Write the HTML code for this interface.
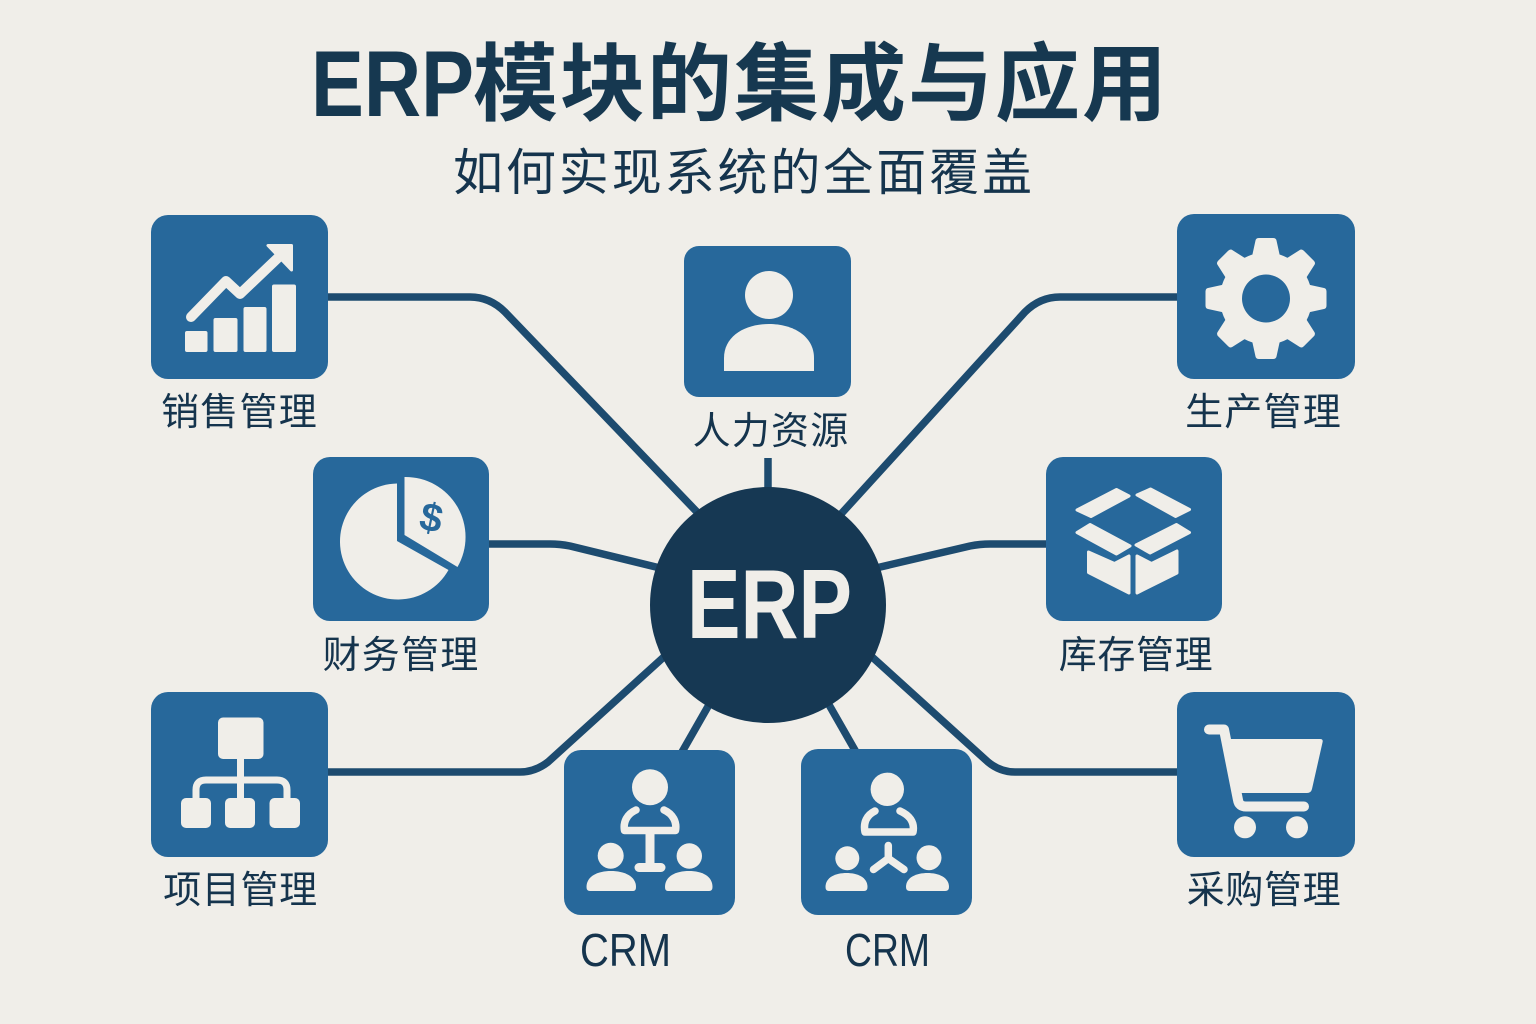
<!DOCTYPE html>
<html><head><meta charset="utf-8"><style>
html,body{margin:0;padding:0;background:#f0eee9}
svg{display:block}
text{font-family:"Liberation Sans","Noto Sans CJK SC",sans-serif}
.l{font-size:38px;fill:#15344d;text-anchor:middle;letter-spacing:1.2px}
.n{letter-spacing:.6px}
.b{fill:#27689b}
.w{fill:#f0eee9}
.s{stroke:#f0eee9;fill:none}
.c{stroke:#1d4b6f;stroke-width:7.5;fill:none;stroke-linecap:butt;stroke-linejoin:round}
</style></head><body>
<svg width="1536" height="1024" viewBox="0 0 1536 1024" xmlns="http://www.w3.org/2000/svg">
<rect width="1536" height="1024" fill="#f0eee9"/>
<text x="311" y="116" font-size="94" font-weight="700" fill="#163850" textLength="163" lengthAdjust="spacingAndGlyphs">ERP</text>
<text x="473" y="114" font-size="85" font-weight="700" fill="#163850" letter-spacing="2">模块的集成与应用</text>
<text x="453" y="190" font-size="50" fill="#15344d" letter-spacing="2.900">如何实现系统的全面覆盖</text>

<path class="c" d="M328 297H470Q490 297 505 312L697 512"/>
<path class="c" d="M1177 297H1060Q1040 297 1025 312L841 514"/>
<path class="c" d="M768 458V492"/>
<path class="c" d="M489 544H550Q560 544 570 546L660 568"/>
<path class="c" d="M1046 544H990Q980 544 970 546L876 568"/>
<path class="c" d="M328 772H520Q535 772 548 762L666 655"/>
<path class="c" d="M1177 772H1015Q1000 772 988 762L871 656"/>
<path class="c" d="M682 752L710 703"/>
<path class="c" d="M856 752L828 703"/>
<circle cx="768" cy="605" r="118" fill="#163853"/>
<text x="687" y="638" font-size="98" font-weight="700" fill="#f0eee9" textLength="165" lengthAdjust="spacingAndGlyphs">ERP</text>

<rect class="b" x="151" y="215" width="177" height="164" rx="17"/>
<rect class="b" x="684" y="246" width="167" height="151" rx="15"/>
<rect class="b" x="1177" y="214" width="178" height="165" rx="17"/>
<rect class="b" x="313" y="457" width="176" height="164" rx="17"/>
<rect class="b" x="1046" y="457" width="176" height="164" rx="17"/>
<rect class="b" x="151" y="692" width="177" height="165" rx="17"/>
<rect class="b" x="564" y="750" width="171" height="165" rx="17"/>
<rect class="b" x="801" y="749" width="171" height="166" rx="17"/>
<rect class="b" x="1177" y="692" width="178" height="165" rx="17"/>

<!-- sales -->
<rect class="w" x="185" y="331" width="22.500" height="21" rx="2"/>
<rect class="w" x="213.500" y="318" width="24" height="34" rx="2"/>
<rect class="w" x="243.500" y="307" width="23" height="45" rx="2"/>
<rect class="w" x="272" y="284.500" width="24" height="67.500" rx="2"/>
<path class="s" stroke-width="10" stroke-linecap="round" stroke-linejoin="round" d="M191 317L226 281L240 294L282 254"/>
<path class="w" stroke="#f0eee9" stroke-width="3" stroke-linejoin="round" d="M268 245.500H291.500V270Z"/>

<!-- person -->
<circle class="w" cx="769" cy="295" r="24"/>
<path class="w" d="M724 371V358C724 336 745 324 769 324S814 336 814 358V371Z"/>

<!-- gear -->
<g transform="translate(1266 298.500)">
<circle r="46" class="w"/>
<g class="w">
<path d="M-14 -42L-10.500 -58Q-10 -60.500 -7 -60.500H7Q10 -60.500 10.500 -58L14 -42Z"/>
<path d="M-14 -42L-10.500 -58Q-10 -60.500 -7 -60.500H7Q10 -60.500 10.500 -58L14 -42Z" transform="rotate(45)"/>
<path d="M-14 -42L-10.500 -58Q-10 -60.500 -7 -60.500H7Q10 -60.500 10.500 -58L14 -42Z" transform="rotate(90)"/>
<path d="M-14 -42L-10.500 -58Q-10 -60.500 -7 -60.500H7Q10 -60.500 10.500 -58L14 -42Z" transform="rotate(135)"/>
<path d="M-14 -42L-10.500 -58Q-10 -60.500 -7 -60.500H7Q10 -60.500 10.500 -58L14 -42Z" transform="rotate(180)"/>
<path d="M-14 -42L-10.500 -58Q-10 -60.500 -7 -60.500H7Q10 -60.500 10.500 -58L14 -42Z" transform="rotate(225)"/>
<path d="M-14 -42L-10.500 -58Q-10 -60.500 -7 -60.500H7Q10 -60.500 10.500 -58L14 -42Z" transform="rotate(270)"/>
<path d="M-14 -42L-10.500 -58Q-10 -60.500 -7 -60.500H7Q10 -60.500 10.500 -58L14 -42Z" transform="rotate(315)"/>
</g>
<circle r="24" class="b"/>
</g>

<!-- pie -->
<path class="w" d="M397 483.500A58 58 0 1 0 448.500 570L397 541Z"/>
<path class="w" d="M404.500 477A60 60 0 0 1 457.500 567L404.500 535Z"/>
<text transform="translate(428.500 531) rotate(12)" font-size="40" font-weight="700" fill="#27689b" text-anchor="middle">$</text>

<!-- box -->
<g class="w" stroke="#f0eee9" stroke-width="3" stroke-linejoin="round">
<path d="M1077 510L1116.500 489.500L1129 496L1091 516.500Z"/>
<path d="M1137 495L1150.500 489L1189.500 509.500L1175.500 516.500Z"/>
<path d="M1077 532.500L1090 524.500L1130 546L1116.500 554Z"/>
<path d="M1136 545L1176.500 524.500L1189.500 532.500L1150 553Z"/>
<path d="M1088.500 552L1114.500 563.500L1129 556V593L1088.500 572.500Z"/>
<path d="M1137 556L1151.500 563.500L1177 551V573L1137 593Z"/>
</g>

<!-- org -->
<rect class="w" x="218" y="717.500" width="45.500" height="41.500" rx="5"/>
<path class="s" stroke-width="7" d="M240.500 756V800M196 802V790Q196 780 206 780H277Q287 780 287 790V802"/>
<rect class="w" x="181" y="798" width="30" height="30" rx="5"/>
<rect class="w" x="225" y="798" width="30" height="30" rx="5"/>
<rect class="w" x="269.500" y="798" width="30.500" height="30" rx="5"/>

<!-- CRM 1 -->
<circle class="w" cx="650" cy="787.300" r="18"/>
<path class="s" stroke-width="7.500" stroke-linecap="round" stroke-linejoin="round" d="M636 810C627 814 623 822 624.500 830.500H675.500C677 822 673 814 664 810"/>
<path class="s" stroke-width="9" stroke-linecap="round" d="M650 832V867.500M639 867.500H661"/>
<circle class="w" cx="610.700" cy="855.700" r="13"/>
<circle class="w" cx="689.300" cy="856" r="12.700"/>
<path class="w" d="M586.500 887C586.500 876 598 871 611 871S636 876 636 887Q636 891 633 891H590Q586.500 891 586.500 887Z"/>
<path class="w" d="M665 887C665 876 676 871 689 871S712.500 876 712.500 887Q712.500 891 709 891H668Q665 891 665 887Z"/>

<!-- CRM 2 -->
<circle class="w" cx="887.300" cy="789.300" r="16.700"/>
<path class="s" stroke-width="7.500" stroke-linecap="round" stroke-linejoin="round" d="M875 811C867 815 863 822 865 832H913C915 822 909 815 900 811"/>
<path class="s" stroke-width="7.500" stroke-linecap="round" stroke-linejoin="round" d="M888.300 845.500V858.500M888.300 858.500L873.500 869.500M888.300 858.500L904 869.500"/>
<circle class="w" cx="847.300" cy="858.300" r="12"/>
<circle class="w" cx="929" cy="857.700" r="12.500"/>
<path class="w" d="M825.500 887C825.500 877 836 873 846.500 873S867.500 877 867.500 887Q867.500 891 864 891H829Q825.500 891 825.500 887Z"/>
<path class="w" d="M906 887C906 877 917 873 927.500 873S949 877 949 887Q949 891 945 891H910Q906 891 906 887Z"/>

<!-- cart -->
<path class="s" stroke-width="10" stroke-linecap="round" stroke-linejoin="round" d="M1209 729.500H1224L1238 800Q1239 806.500 1246 806.500H1304"/>
<path class="w" d="M1228 739H1320Q1323.500 739 1322.500 742.500L1312 789Q1311 793 1307 793H1242Q1239.500 793 1238 790Z"/>
<circle class="w" cx="1245" cy="827.300" r="11"/>
<circle class="w" cx="1297" cy="827.300" r="11"/>

<text class="l" x="239.500" y="425">销售管理</text>
<text class="l" x="771" y="444">人力资源</text>
<text class="l" x="1263.500" y="425">生产管理</text>
<text class="l" x="401" y="668">财务管理</text>
<text class="l n" x="1136" y="668">库存管理</text>
<text class="l n" x="240.500" y="903">项目管理</text>
<text class="l n" x="1264" y="903">采购管理</text>
<text x="580" y="966" font-size="46" fill="#15344d" textLength="91" lengthAdjust="spacingAndGlyphs">CRM</text>
<text x="845" y="966" font-size="46" fill="#15344d" textLength="85" lengthAdjust="spacingAndGlyphs">CRM</text>
</svg>
</body></html>
